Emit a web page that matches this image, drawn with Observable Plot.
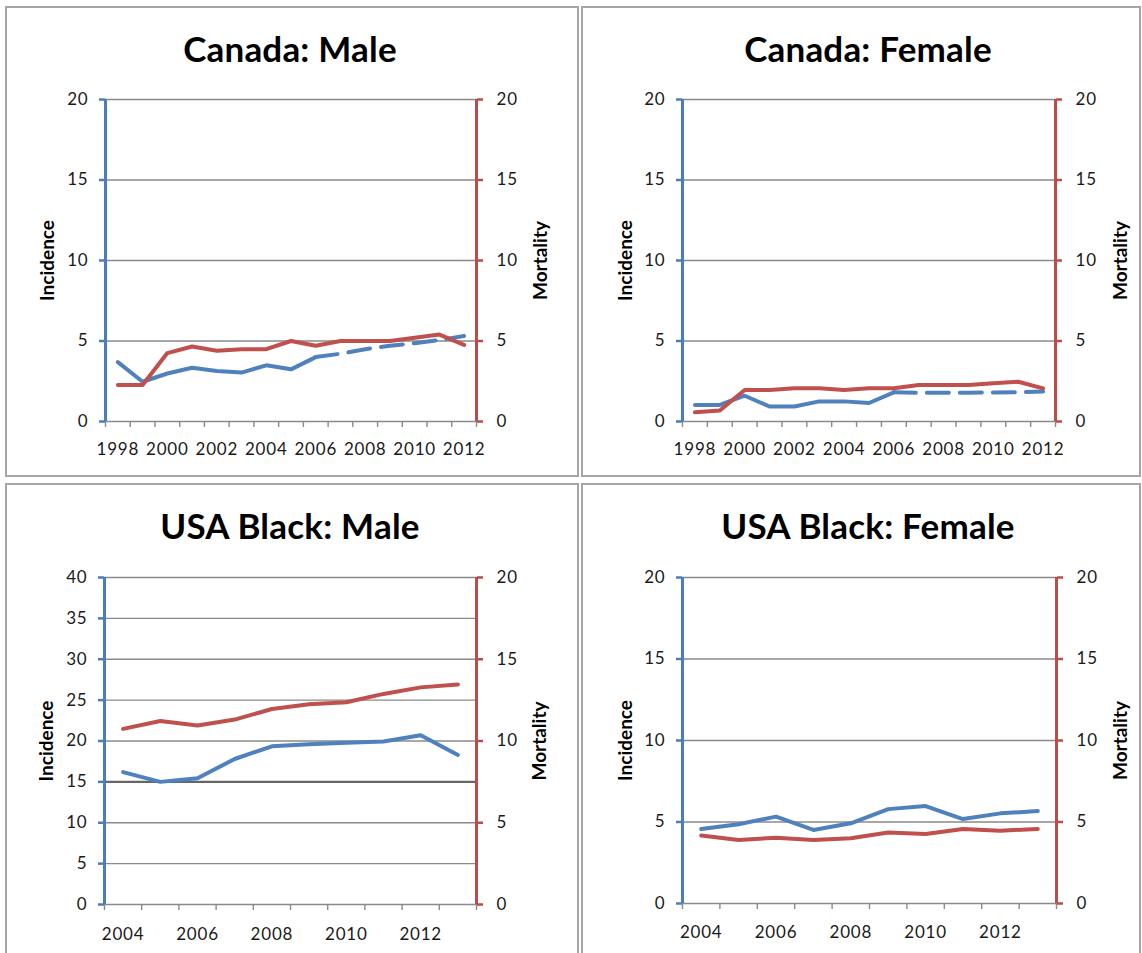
<!DOCTYPE html>
<html>
<head>
<meta charset="utf-8">
<script src="https://cdn.jsdelivr.net/npm/d3@7"></script>
<script src="https://cdn.jsdelivr.net/npm/@observablehq/plot@0.6"></script>
<style>
  html, body { margin: 0; padding: 0; background: #fff; }
  body { width: 1142px; height: 953px; overflow: hidden; position: relative; font-family: Lato, "Open Sans", sans-serif; }
  .panel { position: absolute; box-sizing: border-box; border: 2px solid #a6a6a6; background: #fff; overflow: hidden; }
  .title { position: absolute; width: 600px; text-align: center; font-weight: 700; font-size: 35px; line-height: 40px; color: #000; letter-spacing: 0.2px; white-space: nowrap; }
  .chart { position: absolute; }
  .chart svg { overflow: visible; }
  .chart svg [aria-label$="tick label"] text { letter-spacing: 0.8px; }
</style>
</head>
<body>
<script>
// ---------- data ----------
const canadaYears = [1998, 1999, 2000, 2001, 2002, 2003, 2004, 2005, 2006, 2007, 2008, 2009, 2010, 2011, 2012];
const canadaYearLabels = [1998, 2000, 2002, 2004, 2006, 2008, 2010, 2012];
const canadaMaleIncidence   = [3.69, 2.47, 2.98, 3.34, 3.14, 3.04, 3.49, 3.24, 4.00, 4.21, 4.49, 4.70, 4.86, 5.06, 5.31];
const canadaMaleMortality   = [2.27, 2.27, 4.25, 4.66, 4.40, 4.49, 4.49, 5.00, 4.70, 5.00, 5.00, 5.00, 5.20, 5.40, 4.76];
const canadaFemaleIncidence = [1.03, 1.03, 1.60, 0.93, 0.93, 1.25, 1.25, 1.15, 1.81, 1.78, 1.78, 1.79, 1.80, 1.82, 1.86];
const canadaFemaleMortality = [0.57, 0.68, 1.96, 1.96, 2.06, 2.06, 1.96, 2.06, 2.06, 2.27, 2.27, 2.27, 2.37, 2.47, 2.06];
const canadaProjectedFrom = 2006; // incidence is drawn dashed from this year on

const usaYears = [2004, 2005, 2006, 2007, 2008, 2009, 2010, 2011, 2012, 2013];
const usaYearLabels = [2004, 2006, 2008, 2010, 2012];
const usaBlackMaleIncidence   = [16.2, 15.0, 15.45, 17.8, 19.35, 19.6, 19.8, 19.95, 20.7, 18.3];
const usaBlackMaleMortality   = [10.74, 11.22, 10.95, 11.31, 11.96, 12.25, 12.37, 12.88, 13.28, 13.45];
const usaBlackFemaleIncidence = [4.57, 4.86, 5.33, 4.51, 4.92, 5.79, 5.98, 5.18, 5.53, 5.67];
const usaBlackFemaleMortality = [4.17, 3.90, 4.04, 3.90, 4.00, 4.35, 4.27, 4.57, 4.47, 4.57];

const ticks0to20 = [0, 5, 10, 15, 20];
const ticks0to40 = [0, 5, 10, 15, 20, 25, 30, 35, 40];

const titles = ["Canada: Male", "Canada: Female", "USA Black: Male", "USA Black: Female"];
const incidenceLabel = "Incidence";
const mortalityLabel = "Mortality";

// ---------- styles ----------
const BLUE = "#4f81bd", RED = "#c0504d";
const BLUE_AXIS = "#4a7ebb", RED_AXIS = "#be4b48";
const GRID = "#8a8a8a", TEXT = "#1a1a1a";

function makePanel(cfg) {
  const div = document.createElement("div");
  div.className = "panel";
  Object.assign(div.style, {left: cfg.left + "px", top: cfg.top + "px", width: cfg.width + "px", height: cfg.height + "px"});
  document.body.appendChild(div);

  const cx = cfg.left + 2, cy = cfg.top + 2; // content origin
  const t = document.createElement("div");
  t.className = "title";
  t.textContent = cfg.title;
  t.style.left = (cfg.titleCenter - cx - 300) + "px";
  t.style.top = (cfg.titleY - cy - 20) + "px";
  div.appendChild(t);

  const svgLeft = cx, svgTop = cfg.svgTop;
  const svgW = cfg.width - 4;
  const svgH = cfg.svgHeight;
  const f = cfg.frame;

  const k = cfg.incTicks[cfg.incTicks.length - 1] / cfg.mortTicks[cfg.mortTicks.length - 1];
  const yMax = cfg.incTicks[cfg.incTicks.length - 1];
  const years = cfg.years;
  const x0 = years[0] - 0.5, x1 = years[years.length - 1] + 0.5;
  const rows = years.map((yr, i) => ({year: yr, inc: cfg.inc[i], mort: cfg.mort[i] * k}));
  const bounds = years.map(yr => yr - 0.5).concat([x1]);

  const incMarks = cfg.dashFrom != null
    ? [
        Plot.line(rows.filter(d => d.year <= cfg.dashFrom), {x: "year", y: "inc", stroke: BLUE, strokeWidth: 4, strokeLinejoin: "round"}),
        Plot.line(rows.filter(d => d.year >= cfg.dashFrom), {x: "year", y: "inc", stroke: BLUE, strokeWidth: 4, strokeDasharray: "22,11", strokeLinejoin: "round"})
      ]
    : [Plot.line(rows, {x: "year", y: "inc", stroke: BLUE, strokeWidth: 4, strokeLinejoin: "round"})];

  const chart = Plot.plot({
    width: svgW,
    height: svgH,
    marginLeft: f.l - svgLeft,
    marginRight: svgLeft + svgW - f.r,
    marginTop: f.t - svgTop,
    marginBottom: svgTop + svgH - f.b,
    style: {fontFamily: "Lato, 'Open Sans', sans-serif", fontSize: "17px", color: TEXT, background: "#fff", overflow: "visible"},
    x: {type: "linear", domain: [x0, x1], axis: null},
    y: {type: "linear", domain: [0, yMax], axis: null},
    marks: [
      Plot.gridY(cfg.incTicks.filter(v => v > 0), {stroke: GRID, strokeOpacity: 1, strokeWidth: 1.4}),
      cfg.darkRule != null ? Plot.ruleY([cfg.darkRule], {stroke: "#666", strokeWidth: 2.4}) : null,
      Plot.ruleY([0], {stroke: GRID, strokeWidth: 1.6}),
      Plot.axisX({ticks: bounds, tickSize: 6, tickFormat: () => "", stroke: GRID, strokeWidth: 1.4, label: null}),
      Plot.axisX({ticks: cfg.labels, tickSize: 0, tickPadding: cfg.xPad, tickFormat: d => String(d), fill: TEXT, fontSize: 17, label: null}),
      ...incMarks,
      Plot.line(rows, {x: "year", y: "mort", stroke: RED, strokeWidth: 4, strokeLinejoin: "round"}),
      Plot.ruleX([x0], {y1: 0, y2: yMax, stroke: BLUE_AXIS, strokeWidth: 3}),
      Plot.axisY({anchor: "left", ticks: cfg.incTicks, tickSize: 6, tickPadding: 11, stroke: BLUE_AXIS, strokeWidth: 2.5, fill: TEXT, fontSize: 17, tickFormat: d => String(d), label: null}),
      Plot.ruleX([x1], {y1: 0, y2: yMax, stroke: RED_AXIS, strokeWidth: 3}),
      Plot.axisY({anchor: "right", ticks: cfg.mortTicks.map(v => v * k), tickSize: 6, tickPadding: 14, stroke: RED_AXIS, strokeWidth: 2.5, fill: TEXT, fontSize: 17, tickFormat: d => String(Math.round(d / k)), label: null}),
      Plot.text([incidenceLabel], {frameAnchor: "left", textAnchor: "middle", dx: cfg.incDx, rotate: -90, fontWeight: "bold", fontSize: 19, fill: "#000"}),
      Plot.text([mortalityLabel], {frameAnchor: "right", textAnchor: "middle", dx: cfg.mortDx, rotate: -90, fontWeight: "bold", fontSize: 19, fill: "#000"})
    ].filter(Boolean)
  });

  const holder = document.createElement("div");
  holder.className = "chart";
  holder.style.left = (svgLeft - cx) + "px";
  holder.style.top = (svgTop - cy) + "px";
  holder.appendChild(chart);
  div.appendChild(holder);
}

makePanel({
  left: 5, top: 6, width: 574, height: 471, title: titles[0], titleCenter: 290, titleY: 48,
  svgTop: 80, svgHeight: 394, frame: {l: 105, r: 476, t: 99, b: 421}, xPad: 21,
  years: canadaYears, labels: canadaYearLabels, inc: canadaMaleIncidence, mort: canadaMaleMortality,
  incTicks: ticks0to20, mortTicks: ticks0to20, dashFrom: canadaProjectedFrom, incDx: -58, mortDx: 64
});
makePanel({
  left: 581, top: 6, width: 560, height: 471, title: titles[1], titleCenter: 868, titleY: 48,
  svgTop: 80, svgHeight: 394, frame: {l: 682, r: 1055, t: 99, b: 421}, xPad: 21,
  years: canadaYears, labels: canadaYearLabels, inc: canadaFemaleIncidence, mort: canadaFemaleMortality,
  incTicks: ticks0to20, mortTicks: ticks0to20, dashFrom: canadaProjectedFrom, incDx: -57, mortDx: 65
});
makePanel({
  left: 5, top: 483, width: 574, height: 480, title: titles[2], titleCenter: 290, titleY: 525,
  svgTop: 557, svgHeight: 396, frame: {l: 104, r: 476, t: 577, b: 904}, xPad: 23,
  years: usaYears, labels: usaYearLabels, inc: usaBlackMaleIncidence, mort: usaBlackMaleMortality,
  incTicks: ticks0to40, mortTicks: ticks0to20, dashFrom: null, darkRule: 15, incDx: -58, mortDx: 63
});
makePanel({
  left: 581, top: 483, width: 560, height: 480, title: titles[3], titleCenter: 868, titleY: 525,
  svgTop: 557, svgHeight: 396, frame: {l: 682, r: 1056, t: 577, b: 903}, xPad: 22,
  years: usaYears, labels: usaYearLabels, inc: usaBlackFemaleIncidence, mort: usaBlackFemaleMortality,
  incTicks: ticks0to20, mortTicks: ticks0to20, dashFrom: null, incDx: -57, mortDx: 64
});
</script>
</body>
</html>
